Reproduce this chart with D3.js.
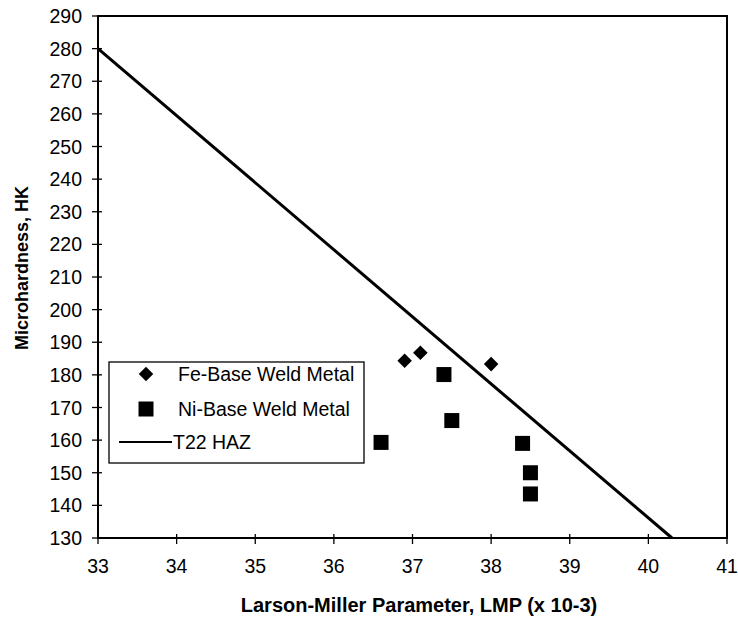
<!DOCTYPE html>
<html>
<head>
<meta charset="utf-8">
<script src="https://cdn.jsdelivr.net/npm/d3@7"></script>
<style>
  body { margin: 0; background: #fff; }
  svg text { font-family: "Liberation Sans", Arial, sans-serif; fill: #000; }
</style>
</head>
<body>
<svg id="chart" width="738" height="620"></svg>
<script>
// data
var feLmp = [36.9, 37.1, 38.0];
var feHk = [184.3, 186.8, 183.3];
var niLmp = [36.6, 37.4, 37.5, 38.4, 38.5, 38.5];
var niHk = [159.3, 180.1, 166, 159, 150, 143.5];
var hazLmp = [33, 40.3];
var hazHk = [280, 130];
var xTicks = [33, 34, 35, 36, 37, 38, 39, 40, 41];
var yTicks = [130, 140, 150, 160, 170, 180, 190, 200, 210, 220, 230, 240, 250, 260, 270, 280, 290];
var legendLabels = ["Fe-Base Weld Metal", "Ni-Base Weld Metal", "T22 HAZ"];

var plotLeft = 98, plotRight = 727, plotTop = 16, plotBottom = 538;

var svg = d3.select("#chart");

var x = d3.scaleLinear().domain([33, 41]).range([plotLeft, plotRight]);
var y = d3.scaleLinear().domain([130, 290]).range([plotBottom, plotTop]);

// frame
svg.append("rect")
  .attr("x", plotLeft).attr("y", plotTop)
  .attr("width", plotRight - plotLeft).attr("height", plotBottom - plotTop)
  .attr("fill", "none").attr("stroke", "#000").attr("stroke-width", 2);

// y ticks
var yAxis = svg.append("g");
yTicks.forEach(function(t) {
  yAxis.append("line")
    .attr("x1", plotLeft - 6).attr("x2", plotLeft + 4)
    .attr("y1", y(t)).attr("y2", y(t))
    .attr("stroke", "#000").attr("stroke-width", 1.3);
  yAxis.append("text")
    .attr("x", plotLeft - 16).attr("y", y(t) + 7)
    .attr("text-anchor", "end")
    .style("font-size", "19.5px")
    .text(t);
});

// x ticks
var xAxis = svg.append("g");
xTicks.forEach(function(t) {
  xAxis.append("line")
    .attr("x1", x(t)).attr("x2", x(t))
    .attr("y1", plotBottom - 4).attr("y2", plotBottom + 6)
    .attr("stroke", "#000").attr("stroke-width", 1.3);
  xAxis.append("text")
    .attr("x", x(t)).attr("y", plotBottom + 35)
    .attr("text-anchor", "middle")
    .style("font-size", "19.5px")
    .text(t);
});

// axis titles
svg.append("text")
  .attr("x", 419).attr("y", 612)
  .attr("text-anchor", "middle")
  .style("font-size", "20px").style("font-weight", "bold")
  .text("Larson-Miller Parameter, LMP (x 10-3)");

svg.append("text")
  .attr("transform", "translate(28,268) rotate(-90)")
  .attr("text-anchor", "middle")
  .style("font-size", "18px").style("font-weight", "bold")
  .text("Microhardness, HK");

// T22 HAZ line
var line = d3.line()
  .x(function(d) { return x(d[0]); })
  .y(function(d) { return y(d[1]); });
svg.append("path")
  .datum(d3.zip(hazLmp, hazHk))
  .attr("d", line)
  .attr("fill", "none").attr("stroke", "#000").attr("stroke-width", 3);

// Fe diamonds
var diamond = d3.symbol().type(d3.symbolDiamond2).size(135);
svg.append("g").selectAll("path")
  .data(d3.zip(feLmp, feHk))
  .join("path")
  .attr("d", diamond)
  .attr("transform", function(d) { return "translate(" + x(d[0]) + "," + y(d[1]) + ")"; })
  .attr("fill", "#000");

// Ni squares
var sq = 15;
svg.append("g").selectAll("rect")
  .data(d3.zip(niLmp, niHk))
  .join("rect")
  .attr("x", function(d) { return x(d[0]) - sq / 2; })
  .attr("y", function(d) { return y(d[1]) - sq / 2; })
  .attr("width", sq).attr("height", sq)
  .attr("fill", "#000");

// legend
var legend = svg.append("g");
legend.append("rect")
  .attr("x", 109).attr("y", 362)
  .attr("width", 255).attr("height", 101)
  .attr("fill", "#fff").attr("stroke", "#000").attr("stroke-width", 1.3);

var rowY = [374, 409, 442];
legend.append("path")
  .attr("d", diamond)
  .attr("transform", "translate(146," + rowY[0] + ")")
  .attr("fill", "#000");
legend.append("rect")
  .attr("x", 138.5).attr("y", rowY[1] - 7.5)
  .attr("width", 15).attr("height", 15)
  .attr("fill", "#000");
legend.append("line")
  .attr("x1", 119).attr("x2", 172)
  .attr("y1", rowY[2]).attr("y2", rowY[2])
  .attr("stroke", "#000").attr("stroke-width", 2);

legendLabels.forEach(function(l, i) {
  legend.append("text")
    .attr("x", i == 2 ? 173 : 178).attr("y", rowY[i] + 7)
    .style("font-size", "19.5px")
    .text(l);
});
</script>
</body>
</html>
